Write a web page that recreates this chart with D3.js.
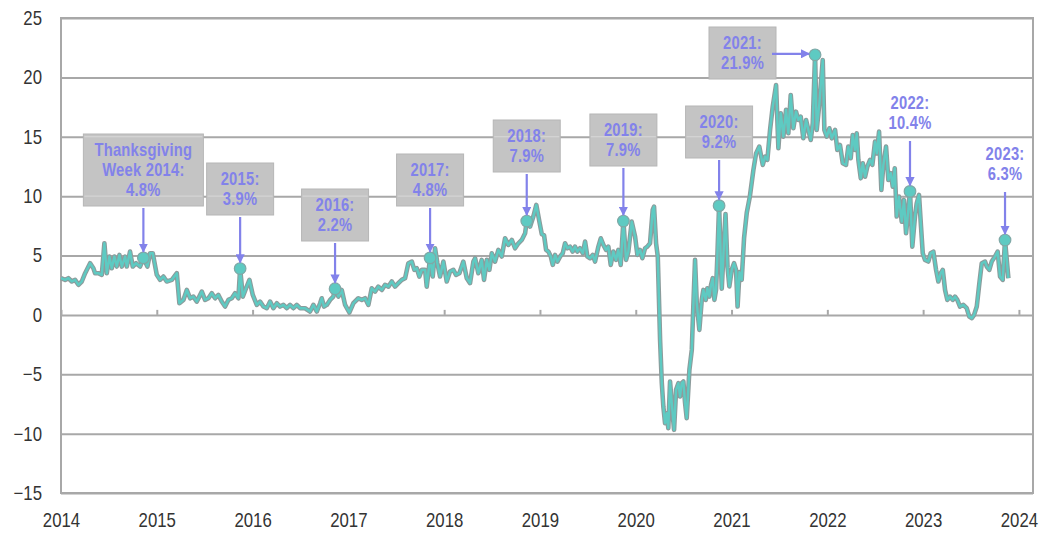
<!DOCTYPE html>
<html>
<head>
    <meta charset="utf-8">
    <script src="https://d3js.org/d3.v7.min.js"></script>
    <style>
        body { margin: 0; background: #fff; }
        .tick text { font-family: "Liberation Sans", Arial, sans-serif; font-size: 20px; fill: #333; }
        .anno { font-family: "Liberation Sans", Arial, sans-serif; font-weight: bold; font-size: 18px; fill: #8282ea; }
    </style>
</head>
<body>
<script>
    // weekly series (decimal year, y/y %)
    var years = [
        2014.000, 2014.043, 2014.077, 2014.113, 2014.147, 2014.182, 2014.217, 2014.252, 2014.304, 2014.338,
        2014.356, 2014.390, 2014.426, 2014.453, 2014.478, 2014.505, 2014.530, 2014.557, 2014.582, 2014.610,
        2014.635, 2014.669, 2014.687, 2014.721, 2014.749, 2014.784, 2014.826, 2014.860, 2014.902, 2014.930,
        2014.958, 2015.000, 2015.034, 2015.069, 2015.104, 2015.157, 2015.209, 2015.236, 2015.278, 2015.313,
        2015.348, 2015.382, 2015.418, 2015.470, 2015.504, 2015.539, 2015.574, 2015.609, 2015.643, 2015.678,
        2015.713, 2015.747, 2015.783, 2015.817, 2015.852, 2015.870, 2015.898, 2015.932, 2015.967, 2016.002,
        2016.044, 2016.078, 2016.113, 2016.148, 2016.183, 2016.217, 2016.253, 2016.287, 2016.322, 2016.357,
        2016.391, 2016.426, 2016.461, 2016.496, 2016.548, 2016.600, 2016.635, 2016.670, 2016.705, 2016.722,
        2016.746, 2016.775, 2016.809, 2016.843, 2016.861, 2016.896, 2016.931, 2016.966, 2017.010, 2017.052,
        2017.104, 2017.140, 2017.174, 2017.209, 2017.244, 2017.279, 2017.313, 2017.349, 2017.383, 2017.418,
        2017.453, 2017.487, 2017.522, 2017.557, 2017.592, 2017.626, 2017.662, 2017.689, 2017.714, 2017.741,
        2017.766, 2017.801, 2017.818, 2017.853, 2017.881, 2017.905, 2017.929, 2017.957, 2017.992, 2018.027,
        2018.061, 2018.096, 2018.124, 2018.159, 2018.200, 2018.236, 2018.270, 2018.305, 2018.323, 2018.357,
        2018.392, 2018.416, 2018.445, 2018.472, 2018.497, 2018.531, 2018.566, 2018.601, 2018.636, 2018.670,
        2018.706, 2018.740, 2018.775, 2018.810, 2018.845, 2018.862, 2018.897, 2018.931, 2018.962, 2018.994,
        2019.019, 2019.043, 2019.064, 2019.088, 2019.113, 2019.134, 2019.158, 2019.182, 2019.210, 2019.238,
        2019.262, 2019.286, 2019.314, 2019.342, 2019.366, 2019.390, 2019.418, 2019.447, 2019.471, 2019.495,
        2019.523, 2019.551, 2019.575, 2019.610, 2019.635, 2019.662, 2019.690, 2019.714, 2019.739, 2019.766,
        2019.794, 2019.818, 2019.843, 2019.871, 2019.899, 2019.923, 2019.958, 2019.993, 2020.017, 2020.045,
        2020.069, 2020.097, 2020.121, 2020.149, 2020.177, 2020.191, 2020.212, 2020.230, 2020.254, 2020.272,
        2020.288, 2020.306, 2020.324, 2020.340, 2020.358, 2020.376, 2020.400, 2020.421, 2020.445, 2020.462,
        2020.480, 2020.497, 2020.515, 2020.532, 2020.560, 2020.585, 2020.601, 2020.619, 2020.637, 2020.664,
        2020.689, 2020.706, 2020.731, 2020.747, 2020.768, 2020.786, 2020.804, 2020.821, 2020.838, 2020.852,
        2020.870, 2020.898, 2020.914, 2020.937, 2020.958, 2020.977, 2021.002, 2021.026, 2021.047, 2021.063,
        2021.083, 2021.106, 2021.131, 2021.159, 2021.191, 2021.228, 2021.256, 2021.290, 2021.326, 2021.350,
        2021.374, 2021.402, 2021.430, 2021.465, 2021.489, 2021.514, 2021.541, 2021.569, 2021.593, 2021.618,
        2021.645, 2021.673, 2021.697, 2021.722, 2021.749, 2021.778, 2021.802, 2021.827, 2021.848, 2021.872,
        2021.889, 2021.917, 2021.952, 2021.969, 2021.994, 2022.021, 2022.046, 2022.081, 2022.104, 2022.132,
        2022.161, 2022.195, 2022.219, 2022.244, 2022.265, 2022.289, 2022.307, 2022.324, 2022.349, 2022.370,
        2022.394, 2022.418, 2022.446, 2022.470, 2022.498, 2022.516, 2022.540, 2022.564, 2022.585, 2022.613,
        2022.637, 2022.662, 2022.683, 2022.704, 2022.724, 2022.748, 2022.777, 2022.800, 2022.822, 2022.863,
        2022.887, 2022.915, 2022.933, 2022.957, 2022.978, 2022.996, 2023.020, 2023.054, 2023.079, 2023.107,
        2023.135, 2023.159, 2023.184, 2023.205, 2023.229, 2023.253, 2023.281, 2023.309, 2023.333, 2023.357,
        2023.385, 2023.420, 2023.455, 2023.482, 2023.508, 2023.532, 2023.560, 2023.587, 2023.612, 2023.646,
        2023.664, 2023.691, 2023.716, 2023.750, 2023.778, 2023.803, 2023.831, 2023.855, 2023.890
    ];
    var values = [
        3.09, 2.95, 3.09, 2.81, 2.95, 2.53, 2.81, 3.51, 4.35, 3.93,
        3.51, 3.51, 3.37, 6.03, 3.51, 4.91, 3.93, 4.91, 4.07, 5.05,
        4.07, 4.91, 4.07, 5.33, 4.07, 4.35, 4.07, 4.80, 4.07, 5.19,
        5.19, 3.37, 2.95, 3.23, 2.81, 2.95, 3.51, 0.98, 1.26, 2.10,
        1.40, 1.54, 1.12, 1.96, 1.26, 1.40, 1.82, 1.40, 1.68, 1.12,
        0.70, 1.26, 1.40, 1.82, 1.40, 3.90, 1.54, 2.24, 2.95, 1.68,
        0.84, 1.12, 0.70, 0.56, 1.12, 0.56, 0.98, 0.70, 0.84, 0.56,
        0.84, 0.56, 0.84, 0.56, 0.56, 0.28, 0.84, 0.28, 0.98, 1.40,
        0.70, 0.84, 1.26, 1.54, 2.20, 1.54, 2.10, 0.84, 0.20, 0.98,
        1.40, 1.26, 1.40, 0.84, 2.24, 1.96, 2.38, 2.10, 2.53, 2.38,
        2.81, 2.38, 2.67, 2.95, 3.09, 4.35, 4.49, 3.79, 3.93, 3.23,
        3.79, 3.79, 2.38, 4.80, 3.23, 5.61, 4.35, 3.23, 4.49, 2.81,
        3.65, 3.79, 3.37, 3.51, 4.49, 3.09, 2.67, 4.49, 4.77, 3.51,
        4.63, 2.95, 4.63, 3.79, 5.19, 4.49, 5.47, 4.91, 6.45, 5.89,
        6.31, 5.61, 6.03, 6.31, 6.87, 7.90, 7.43, 8.28, 9.26, 7.85,
        6.80, 6.70, 5.47, 5.33, 4.91, 4.21, 5.05, 4.49, 4.91, 5.19,
        6.03, 5.61, 5.75, 5.33, 5.75, 5.33, 5.61, 5.19, 6.17, 4.91,
        4.77, 5.05, 4.49, 5.75, 6.45, 5.89, 5.47, 5.75, 4.21, 5.33,
        4.63, 5.47, 4.21, 7.90, 4.63, 5.33, 7.85, 6.59, 5.05, 5.47,
        4.77, 5.61, 5.75, 6.03, 8.84, 9.12, 6.03, 4.91, -2.10, -5.75,
        -7.72, -9.12, -8.28, -9.54, -5.61, -7.43, -9.68, -6.31, -5.75, -6.87,
        -5.75, -5.61, -7.43, -8.70, -4.63, -2.95, 0.70, 4.63, 0.98, -1.26,
        1.26, 2.10, 1.26, 2.24, 1.54, 2.53, 3.09, 1.26, 2.10, 4.91,
        9.20, 2.20, 4.91, 8.50, 4.00, 2.40, 3.79, 4.35, 3.79, 0.70,
        3.60, 2.95, 6.50, 8.60, 9.96, 12.20, 13.60, 14.17, 12.63, 13.33,
        13.05, 15.57, 17.54, 19.36, 14.03, 16.98, 15.01, 17.26, 15.29, 18.52,
        15.71, 17.11, 16.41, 16.70, 14.87, 16.41, 15.57, 14.73, 16.13, 21.90,
        15.57, 17.80, 21.46, 15.57, 15.01, 15.71, 14.87, 15.57, 13.89, 14.31,
        12.77, 12.63, 14.17, 13.19, 15.15, 13.89, 15.29, 13.05, 11.50, 12.77,
        11.64, 12.49, 13.05, 12.63, 14.59, 13.60, 15.43, 10.52, 12.63, 14.17,
        11.36, 11.93, 10.80, 12.35, 8.28, 9.96, 7.85, 9.68, 6.87, 10.40,
        5.75, 8.28, 9.40, 10.10, 7.43, 5.19, 4.63, 4.49, 5.19, 5.33,
        3.79, 2.81, 3.51, 3.79, 2.10, 1.26, 1.54, 1.26, 1.54, 1.26,
        0.70, 0.84, 0.56, -0.14, -0.28, 0.00, 0.70, 2.67, 4.35, 4.49,
        4.07, 3.79, 4.49, 4.91, 5.33, 3.23, 2.95, 6.30, 3.09
    ];

    // Thanksgiving-week call-outs
    var annoYears = [2014.860, 2015.870, 2016.861, 2017.853, 2018.862, 2019.871, 2020.870, 2021.872, 2022.863, 2023.855];
    var annoValues = [4.8, 3.9, 2.2, 4.8, 7.9, 7.9, 9.2, 21.9, 10.4, 6.3];
    var annoLabels = [
        ["Thanksgiving", "Week 2014:", "4.8%"],
        ["2015:", "3.9%"], ["2016:", "2.2%"], ["2017:", "4.8%"], ["2018:", "7.9%"],
        ["2019:", "7.9%"], ["2020:", "9.2%"], ["2021:", "21.9%"], ["2022:", "10.4%"], ["2023:", "6.3%"]
    ];

    var xTicks = [2014, 2015, 2016, 2017, 2018, 2019, 2020, 2021, 2022, 2023, 2024];
    var xLabels = ["2014", "2015", "2016", "2017", "2018", "2019", "2020", "2021", "2022", "2023", "2024"];
    var yTicks = [-15, -10, -5, 0, 5, 10, 15, 20, 25];

    // layout for the call-outs (box top in px, box width, boxed or not)
    var annoLayout = [
        { top: 134, w: 120, box: true },
        { top: 163, w: 67, box: true },
        { top: 189, w: 67, box: true },
        { top: 154, w: 67, box: true },
        { top: 120, w: 67, box: true },
        { top: 114, w: 67, box: true },
        { top: 106, w: 67, box: true },
        { top: 27, w: 67, box: true, side: true, cx: 742.5 },
        { top: 87, w: 67, box: false },
        { top: 138, w: 67, box: false }
    ];

    var W = 1052, H = 533;
    var pL = 61, pR = 1033, pT = 18, pB = 493;
    var squeeze = 0.84; // narrow look of the original font
    var gridColor = "#a8a8a8";
    var annoColor = "#8282ea";

    var x = d3.scaleLinear().domain([2014, 2024.147]).range([pL, pR]);
    var y = d3.scaleLinear().domain([-15, 25]).range([pB, pT]);

    function narrow(sel, k) {
        sel.each(function () {
            var t = d3.select(this);
            var x0 = +t.attr("x") || 0;
            t.attr("x", x0 / k).attr("transform", "scale(" + k + ",1)");
        });
    }

    var svg = d3.select("body").append("svg")
        .attr("width", W)
        .attr("height", H);

    var defs = svg.append("defs");
    defs.append("marker")
        .attr("id", "head")
        .attr("viewBox", "0 0 10 10")
        .attr("refX", 9).attr("refY", 5)
        .attr("markerWidth", 4.2).attr("markerHeight", 4.2)
        .attr("markerUnits", "strokeWidth")
        .attr("orient", "auto")
        .append("path")
        .attr("d", "M0,0 L10,5 L0,10 z")
        .attr("fill", annoColor);

    // gridlines + y labels
    var yAxis = svg.append("g")
        .attr("transform", "translate(" + pL + ",0)")
        .call(d3.axisLeft(y).tickValues(yTicks).tickSize(-(pR - pL)).tickPadding(19));
    yAxis.selectAll(".tick line").attr("stroke", gridColor).attr("stroke-width", 2);
    yAxis.select(".domain").remove();
    narrow(yAxis.selectAll(".tick text"), squeeze);

    // frame
    svg.append("rect")
        .attr("x", pL).attr("y", pT)
        .attr("width", pR - pL).attr("height", pB - pT)
        .attr("fill", "none").attr("stroke", gridColor).attr("stroke-width", 2);

    // small year ticks on the zero line
    var zeroAxis = svg.append("g")
        .attr("transform", "translate(0," + y(0) + ")")
        .call(d3.axisTop(x).tickValues(xTicks).tickSize(5).tickFormat(""));
    zeroAxis.select(".domain").remove();
    zeroAxis.selectAll(".tick line").attr("stroke", gridColor).attr("stroke-width", 2);

    // x labels
    var xAxis = svg.append("g")
        .attr("transform", "translate(0," + pB + ")")
        .call(d3.axisBottom(x).tickValues(xTicks).tickSize(0).tickPadding(20)
            .tickFormat(function (d, i) { return xLabels[i]; }));
    xAxis.select(".domain").remove();
    narrow(xAxis.selectAll(".tick text"), squeeze);

    // series
    var pts = years.map(function (d, i) { return { yr: d, v: values[i] }; });
    var line = d3.line()
        .x(function (d) { return x(d.yr); })
        .y(function (d) { return y(d.v); });

    svg.append("path").datum(pts)
        .attr("d", line)
        .attr("fill", "none")
        .attr("stroke", "#8c9c9c")
        .attr("stroke-width", 4.6)
        .attr("stroke-linejoin", "round");
    svg.append("path").datum(pts)
        .attr("d", line)
        .attr("fill", "none")
        .attr("stroke", "#5ecac2")
        .attr("stroke-width", 2.4)
        .attr("stroke-linejoin", "round");

    // markers
    svg.selectAll("circle.mk")
        .data(annoYears)
        .enter()
        .append("circle")
        .attr("class", "mk")
        .attr("cx", function (d) { return x(d); })
        .attr("cy", function (d, i) { return y(annoValues[i]); })
        .attr("r", 5.8)
        .attr("fill", "#5ecac2")
        .attr("stroke", "#7fa8a6")
        .attr("stroke-width", 1.2);

    // call-outs
    annoLabels.forEach(function (lines, i) {
        var lay = annoLayout[i];
        var mx = x(annoYears[i]), my = y(annoValues[i]);
        var cx = lay.cx || mx;
        var h = lines.length * 20 + 12;
        var g = svg.append("g");
        if (lay.box) {
            g.append("rect")
                .attr("x", cx - lay.w / 2).attr("y", lay.top)
                .attr("width", lay.w).attr("height", h)
                .attr("fill", "#c4c4c4")
                .attr("stroke", "#b6b6b6").attr("stroke-width", 1);
            // gridlines showing faintly through the box
            yTicks.forEach(function (t) {
                var gy = y(t);
                if (gy > lay.top + 2 && gy < lay.top + h - 2) {
                    g.append("line")
                        .attr("x1", cx - lay.w / 2 + 1).attr("x2", cx + lay.w / 2 - 1)
                        .attr("y1", gy).attr("y2", gy)
                        .attr("stroke", "#d8d8d8").attr("stroke-width", 1);
                }
            });
        }
        lines.forEach(function (t, j) {
            var tx = g.append("text")
                .attr("class", "anno")
                .attr("x", cx)
                .attr("y", lay.top + 17 + j * 20)
                .attr("dominant-baseline", "middle")
                .attr("text-anchor", "middle")
                .style("letter-spacing", "0.3px")
                .text(t);
            narrow(tx, 0.82);
        });
        if (lay.side) {
            g.append("line")
                .attr("x1", cx + lay.w / 2 - 4).attr("y1", my - 1)
                .attr("x2", mx - 6).attr("y2", my - 1)
                .attr("stroke", annoColor).attr("stroke-width", 2.2)
                .attr("marker-end", "url(#head)");
        } else {
            g.append("line")
                .attr("x1", mx).attr("y1", lay.top + h + 2)
                .attr("x2", mx).attr("y2", my - 6)
                .attr("stroke", annoColor).attr("stroke-width", 2.2)
                .attr("marker-end", "url(#head)");
        }
    });
</script>
</body>
</html>
